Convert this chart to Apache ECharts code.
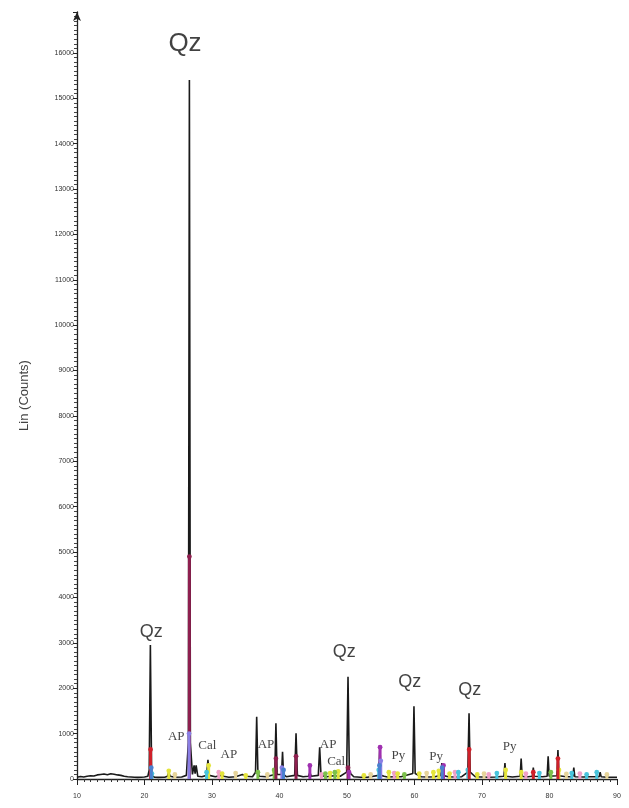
<!DOCTYPE html>
<html><head><meta charset="utf-8">
<script src="https://cdn.jsdelivr.net/npm/echarts@6/dist/echarts.min.js"></script>
<style>html,body{margin:0;padding:0;background:#fff}#c{width:629px;height:808px}</style>
</head><body><div id="c"></div>
<script>
// Measured XRD pattern [2theta, counts]
const pattern = [[10,40],[10.5,55],[11,45],[11.5,60],[12,70],[12.5,65],[13,90],[13.5,100],[14,110],[14.5,95],[15,115],[15.5,105],[16,90],[16.5,80],[17,60],[17.5,50],[18,45],[18.5,40],[19,35],[19.5,40],[20,45],[20.5,60],[20.7,200],[20.87,2950],[21.05,200],[21.2,60],[21.5,40],[22,35],[23,40],[23.4,60],[23.6,140],[23.8,60],[24.5,40],[25.5,45],[26.2,80],[26.5,800],[26.65,15400],[26.8,800],[27.1,100],[27.35,300],[27.5,120],[27.65,300],[27.9,60],[28.5,50],[29.2,80],[29.4,420],[29.6,80],[30.5,50],[31.3,80],[31.5,150],[31.7,60],[32.5,40],[33.5,50],[34.5,100],[35,60],[36,50],[36.45,150],[36.62,1370],[36.8,150],[37,60],[38,50],[39.3,100],[39.47,1230],[39.65,100],[40.3,100],[40.45,600],[40.6,100],[41,50],[42.25,80],[42.45,1010],[42.65,80],[43.5,50],[44.3,60],[44.5,150],[44.7,60],[45.75,80],[45.95,700],[46.15,80],[47,50],[48,70],[49,60],[49.95,150],[50.15,2250],[50.35,150],[51,50],[52,40],[53,40],[54.7,80],[54.87,730],[55.05,80],[55.5,60],[56,45],[57,50],[58,50],[59.75,120],[59.92,1600],[60.1,120],[61,50],[62,45],[63,50],[63.9,80],[64.05,350],[64.2,80],[65,50],[66,45],[67,50],[67.9,150],[68.08,1450],[68.25,150],[69,50],[70,45],[71,40],[72,45],[73.25,60],[73.4,350],[73.55,60],[74.5,45],[75.65,60],[75.8,450],[75.95,60],[76.5,45],[77.45,60],[77.6,250],[77.75,60],[79,50],[79.65,60],[79.8,500],[79.95,60],[81.1,70],[81.25,640],[81.4,70],[82.5,50],[83.45,50],[83.6,250],[83.75,50],[85,45],[86,50],[87.35,50],[87.5,150],[87.65,50],[88.5,40],[89.5,40],[90,40]];

// Reference phase sticks [2theta, counts]
const sticksMaroon = [[26.65,4900],[39.47,450],[42.45,500],[50.15,250]];
const sticksViolet = [[26.6,1000],[40.35,250],[55.0,400]];
const sticksRed = [[20.9,650],[68.1,650],[81.25,450],[77.6,150]];
const sticksBlue = [[21.0,250],[40.6,200],[54.8,300],[64.1,250]];
const sticksYellow = [[23.6,180],[29.5,300],[31.5,120],[35.0,80],[39.3,150],[47.5,130],[48.7,170],[52.5,80],[56.2,150],[57.5,120],[60.7,120],[62.8,150],[63.6,180],[65.2,120],[69.3,100],[73.5,200],[75.8,150],[81.4,200]];
const sticksCyan = [[21.1,120],[29.2,150],[54.7,200],[66.5,150],[67.9,200],[72.2,130],[78.5,130],[83.3,130],[85.5,100],[87.0,150]];
const sticksGreen = [[36.8,150],[39.2,200],[46.8,120],[48.2,150],[58.5,100],[80.2,150]];
const sticksMagenta = [[44.5,300],[54.9,700],[64.3,300],[50.3,150]];
const sticksPink = [[31.0,150],[46.2,100],[57.0,130],[66.0,150],[71.0,100],[76.5,120],[84.5,120]];
const sticksTan = [[24.5,100],[33.5,130],[38.2,100],[53.5,100],[61.8,130],[70.3,120],[82.5,110],[88.5,100]];

// Annotations [2theta, counts, text]
const mainLabel = [[26.0,16190,'Qz']];
const qzLabels = [[21.0,3240,'Qz'],[49.6,2800,'Qz'],[59.3,2140,'Qz'],[68.2,1960,'Qz']];
const phaseLabels = [[24.7,925,'AP'],[29.3,730,'Cal'],[32.5,530,'AP'],[38.0,750,'AP'],[47.2,750,'AP'],[48.4,375,'Cal'],[57.6,510,'Py'],[63.2,485,'Py'],[74.1,705,'Py']];

const xTicks = [10,20,30,40,50,60,70,80,90];
const yTickMax = 16000;

function stickSeries(data, color, z) {
  return {
    type: 'custom', data: data, z: z, silent: true,
    renderItem: function (params, api) {
      const x = api.value(0), h = api.value(1);
      const top = api.coord([x, h]);
      const bot = api.coord([x, 0]);
      return { type: 'group', children: [
        { type: 'rect', shape: { x: top[0] - 1.5, y: top[1], width: 3, height: bot[1] - top[1] }, style: { fill: color } },
        { type: 'circle', shape: { cx: top[0], cy: top[1], r: 2.4 }, style: { fill: color } }
      ]};
    }
  };
}
function labelSeries(data, font, size) {
  return {
    type: 'scatter', data: data, symbolSize: 0, z: 20, silent: true,
    label: { show: true, position: 'inside', formatter: p => p.data[2], fontFamily: font, fontSize: size,
      color: '#111', textBorderWidth: 0 }
  };
}

const chart = echarts.init(document.getElementById('c'));
chart.setOption({
  animation: false,
  grid: { left: 77, right: 12, top: 12, bottom: 29 },
  xAxis: {
    type: 'value', min: xTicks[0], max: xTicks[xTicks.length - 1], interval: 10,
    axisLine: { lineStyle: { color: '#222', width: 1.3 } },
    axisTick: { length: 6, lineStyle: { color: '#222' } },
    minorTick: { show: true, splitNumber: 10, length: 3, lineStyle: { color: '#333' } },
    axisLabel: { fontSize: 7, color: '#333', margin: 14, fontFamily: 'Liberation Sans' },
    splitLine: { show: false }
  },
  yAxis: {
    type: 'value', min: 0, max: 16900, interval: 1000,
    name: 'Lin (Counts)', nameLocation: 'middle', nameRotate: 90, nameGap: 46,
    nameTextStyle: { fontSize: 13, color: '#444', fontFamily: 'Liberation Sans' },
    axisLine: { show: true, symbol: ['none', 'arrow'], symbolSize: [6, 9], lineStyle: { color: '#222', width: 1.3 } },
    axisTick: { length: 4, lineStyle: { color: '#222' } },
    minorTick: { show: true, splitNumber: 10, length: 3, lineStyle: { color: '#444' } },
    axisLabel: { fontSize: 7, color: '#333', margin: 3, fontFamily: 'Liberation Sans', showMaxLabel: false,
      formatter: v => (v <= yTickMax && v % 1000 === 0) ? String(v) : '' },
    splitLine: { show: false }
  },
  series: [
    { type: 'line', data: pattern, showSymbol: false, z: 3, silent: true,
      lineStyle: { color: '#1a1a1a', width: 1.6 } },
    stickSeries(sticksTan, '#e6d49a', 4),
    stickSeries(sticksPink, '#f0a0c8', 4),
    stickSeries(sticksYellow, '#e4e43c', 5),
    stickSeries(sticksCyan, '#48c4dc', 5),
    stickSeries(sticksGreen, '#7cc04c', 5),
    stickSeries(sticksViolet, '#8a7ee4', 7),
    stickSeries(sticksMaroon, '#8e1f4f', 6),
    stickSeries(sticksBlue, '#4a80d0', 7),
    stickSeries(sticksRed, '#d0202a', 6),
    stickSeries(sticksMagenta, '#a030b0', 6),
    labelSeries(mainLabel, 'Liberation Sans', 26),
    labelSeries(qzLabels, 'Liberation Sans', 18),
    labelSeries(phaseLabels, 'Liberation Serif', 13)
  ]
});
</script></body></html>
